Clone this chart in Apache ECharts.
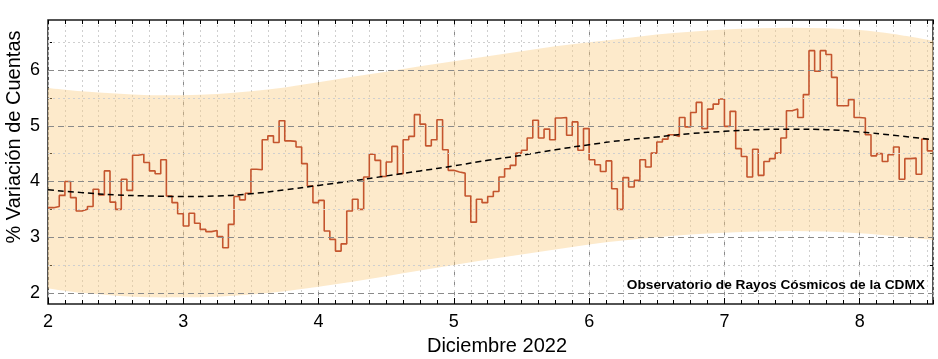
<!DOCTYPE html>
<html><head><meta charset="utf-8">
<script src="https://cdn.jsdelivr.net/npm/echarts@6/dist/echarts.min.js"></script>
<style>html,body{margin:0;padding:0;background:#fff}#c{width:938px;height:359px}</style>
</head><body><div id="c"></div>
<script>
const startDay = 2;
const hoursPerDay = 24;
// hourly % variation of counts, Dec 2 00h .. Dec 8 12h
const hourlyValues = [
  3.53,3.55,3.75,4.00,3.71,3.47,3.50,3.55,3.86,3.76,4.19,3.63,3.50,4.04,3.84,4.47,4.49,4.34,4.19,4.14,4.39,3.74,3.62,3.42,
  3.20,3.43,3.25,3.14,3.10,3.12,3.01,2.81,3.23,3.73,3.67,3.79,4.22,4.21,4.75,4.82,4.70,5.09,4.73,4.72,4.62,4.32,3.92,3.62,
  3.66,3.11,2.96,2.75,2.88,3.47,3.68,3.50,4.08,4.49,4.38,4.09,4.35,4.63,4.14,4.75,4.81,5.20,5.03,4.64,4.75,5.11,4.57,4.20,
  4.17,4.15,3.74,3.27,3.68,3.62,3.73,3.82,4.08,4.23,4.29,4.51,4.56,4.78,5.10,4.78,4.94,4.75,5.14,5.15,4.83,5.07,4.56,4.95,
  4.39,4.30,4.18,4.37,3.87,3.50,4.07,3.90,4.02,4.39,4.26,4.51,4.71,4.76,4.84,4.81,5.15,4.98,5.24,5.42,4.95,5.30,5.39,5.48,
  4.99,5.26,4.59,4.45,4.08,4.58,4.11,4.36,4.41,4.51,4.78,5.27,5.30,5.15,5.56,6.35,5.98,6.35,6.28,5.87,5.36,5.36,5.47,5.15,
  5.14,4.84,4.46,4.50,4.36,4.48,4.62,4.04,4.41,4.42,4.13,4.76,4.55
];
const curveDays  = [2,2.25,2.5,2.75,3,3.25,3.5,3.75,4,4.25,4.5,4.75,5,5.25,5.5,5.75,6,6.25,6.5,6.75,7,7.25,7.5,7.75,8,8.25,8.5417];
const trendValues = [3.85,3.80,3.76,3.74,3.73,3.74,3.78,3.85,3.93,4.01,4.10,4.19,4.28,4.38,4.47,4.57,4.66,4.74,4.80,4.86,4.90,4.93,4.94,4.93,4.89,4.83,4.75];
const bandUpper = [5.68,5.62,5.58,5.55,5.55,5.57,5.62,5.69,5.78,5.88,5.97,6.07,6.16,6.25,6.34,6.43,6.50,6.57,6.64,6.69,6.73,6.75,6.76,6.75,6.72,6.65,6.53];
const bandLower = [2.08,2.00,1.95,1.92,1.92,1.93,1.97,2.03,2.11,2.20,2.30,2.40,2.50,2.60,2.69,2.78,2.87,2.94,3.00,3.05,3.08,3.10,3.11,3.10,3.07,3.02,2.95];
const xTickLabels = [2,3,4,5,6,7,8];
const yTickLabels = [2,3,4,5,6];
const yMinorTicks = [2.5,3.5,4.5,5.5,6.5];
const yAllTicks = [2,2.5,3,3.5,4,4.5,5,5.5,6,6.5];
const xLabel = 'Diciembre 2022';
const yLabel = '% Variación de Cuentas';
const credit = 'Observatorio de Rayos Cósmicos de la CDMX';

const FONT = "'Liberation Sans', Arial, sans-serif";
const xMax = startDay + hourlyValues.length / hoursPerDay;
const yMin = 1.8, yMax = 6.9;

const stepData = hourlyValues.map((v, k) => [startDay + k / hoursPerDay, v]);
stepData.push([xMax, hourlyValues[hourlyValues.length - 1]]);
const trendData = curveDays.map((d, i) => [d, trendValues[i]]);
const bandData = curveDays.map((d, i) => [d, bandLower[i], bandUpper[i]]);

// smooth (Catmull-Rom) path through pixel points
function smoothSeg(pts, moveFirst) {
  let s = moveFirst ? 'M' + pts[0][0] + ',' + pts[0][1] : 'L' + pts[0][0] + ',' + pts[0][1];
  for (let i = 0; i < pts.length - 1; i++) {
    const p0 = pts[Math.max(i - 1, 0)], p1 = pts[i], p2 = pts[i + 1], p3 = pts[Math.min(i + 2, pts.length - 1)];
    const c1 = [p1[0] + (p2[0] - p0[0]) / 6, p1[1] + (p2[1] - p0[1]) / 6];
    const c2 = [p2[0] - (p3[0] - p1[0]) / 6, p2[1] - (p3[1] - p1[1]) / 6];
    s += 'C' + c1[0] + ',' + c1[1] + ',' + c2[0] + ',' + c2[1] + ',' + p2[0] + ',' + p2[1];
  }
  return s;
}

const majorLine = { color: '#8a8a8a', width: 1, type: [6, 4] };
const minorLine = { color: '#cfcfcf', width: 1, type: [2, 3] };

const chart = echarts.init(document.getElementById('c'), null, { renderer: 'canvas' });
chart.setOption({
  animation: false,
  backgroundColor: '#ffffff',
  grid: { left: 48, right: 5, top: 20, bottom: 55, show: true, borderColor: '#1a1a1a', borderWidth: 1.5, backgroundColor: 'transparent' },
  xAxis: [
    { type: 'value', position: 'bottom', min: startDay, max: xMax, interval: 1,
      axisLine: { show: false },
      axisTick: { show: true, inside: true, length: 6, lineStyle: { color: '#000' } },
      axisLabel: { show: true, showMaxLabel: false, color: '#000', fontSize: 18, fontFamily: FONT, margin: 9,
        formatter: v => (Math.abs(v - Math.round(v)) < 1e-6 && xTickLabels.indexOf(Math.round(v)) >= 0) ? String(Math.round(v)) : '' },
      splitLine: { show: true, lineStyle: majorLine } },
    { type: 'value', position: 'bottom', min: startDay, max: xMax, interval: 0.125,
      axisLine: { show: false },
      axisTick: { show: true, inside: true, length: 4, lineStyle: { color: '#000' } },
      axisLabel: { show: false },
      splitLine: { show: true, lineStyle: minorLine } },
    { type: 'value', position: 'top', min: startDay, max: xMax, interval: 0.125,
      axisLine: { show: false },
      axisTick: { show: true, inside: true, length: 4, lineStyle: { color: '#000' } },
      axisLabel: { show: false },
      splitLine: { show: false } }
  ],
  yAxis: [
    { type: 'value', position: 'left', min: yMin, max: yMax,
      axisLine: { show: false },
      axisTick: { show: true, inside: true, length: 6, customValues: yTickLabels, lineStyle: { color: '#000' } },
      axisLabel: { show: true, customValues: yTickLabels, color: '#000', fontSize: 18, fontFamily: FONT, margin: 8 },
      splitLine: { show: false } },
    { type: 'value', position: 'left', min: yMin, max: yMax,
      axisLine: { show: false },
      axisTick: { show: true, inside: true, length: 4, customValues: yMinorTicks, lineStyle: { color: '#000' } },
      axisLabel: { show: false },
      splitLine: { show: false } },
    { type: 'value', position: 'right', min: yMin, max: yMax,
      axisLine: { show: false },
      axisTick: { show: true, inside: true, length: 5, customValues: yAllTicks, lineStyle: { color: '#000' } },
      axisLabel: { show: false },
      splitLine: { show: false } }
  ],
  series: [
    { name: 'gridY', type: 'line', data: [], z: 0, silent: true,
      markLine: { silent: true, symbol: 'none', animation: false, label: { show: false },
        data: yTickLabels.map(v => ({ yAxis: v, lineStyle: majorLine }))
          .concat(yMinorTicks.map(v => ({ yAxis: v, lineStyle: minorLine }))) } },
    { name: 'band', type: 'custom', data: bandData, silent: true, z: 1, clip: true,
      encode: { x: 0, y: [1, 2] },
      renderItem: function (params, api) {
        if (params.dataIndex !== 0) return null;
        const up = bandData.map(r => api.coord([r[0], r[2]]));
        const lo = bandData.map(r => api.coord([r[0], r[1]])).reverse();
        const d = smoothSeg(up, true) + smoothSeg(lo, false) + 'Z';
        return { type: 'path', shape: { pathData: d }, style: { fill: 'rgba(250,205,130,0.42)', stroke: null } };
      } },
    { name: 'variacion', type: 'line', data: stepData, step: 'end', symbol: 'none',
      lineStyle: { color: '#C4552E', width: 1.6 }, z: 3 },
    { name: 'tendencia', type: 'line', data: trendData, smooth: true, symbol: 'none',
      lineStyle: { color: '#000', width: 1.5, type: [6, 4] }, z: 4 }
  ],
  graphic: [
    { type: 'text', x: 14, y: 137, rotation: Math.PI / 2,
      style: { text: yLabel, font: "20px 'Liberation Sans', Arial, sans-serif", fill: '#000', align: 'center', verticalAlign: 'middle' } },
    { type: 'text', x: 497, y: 346,
      style: { text: xLabel, font: "20px 'Liberation Sans', Arial, sans-serif", fill: '#000', align: 'center', verticalAlign: 'middle' } },
    { type: 'text', x: 925, y: 285, z: 10,
      style: { text: credit, font: "bold 13.7px 'Liberation Sans', Arial, sans-serif", fill: '#000', align: 'right', verticalAlign: 'middle' } }
  ]
});
</script></body></html>
